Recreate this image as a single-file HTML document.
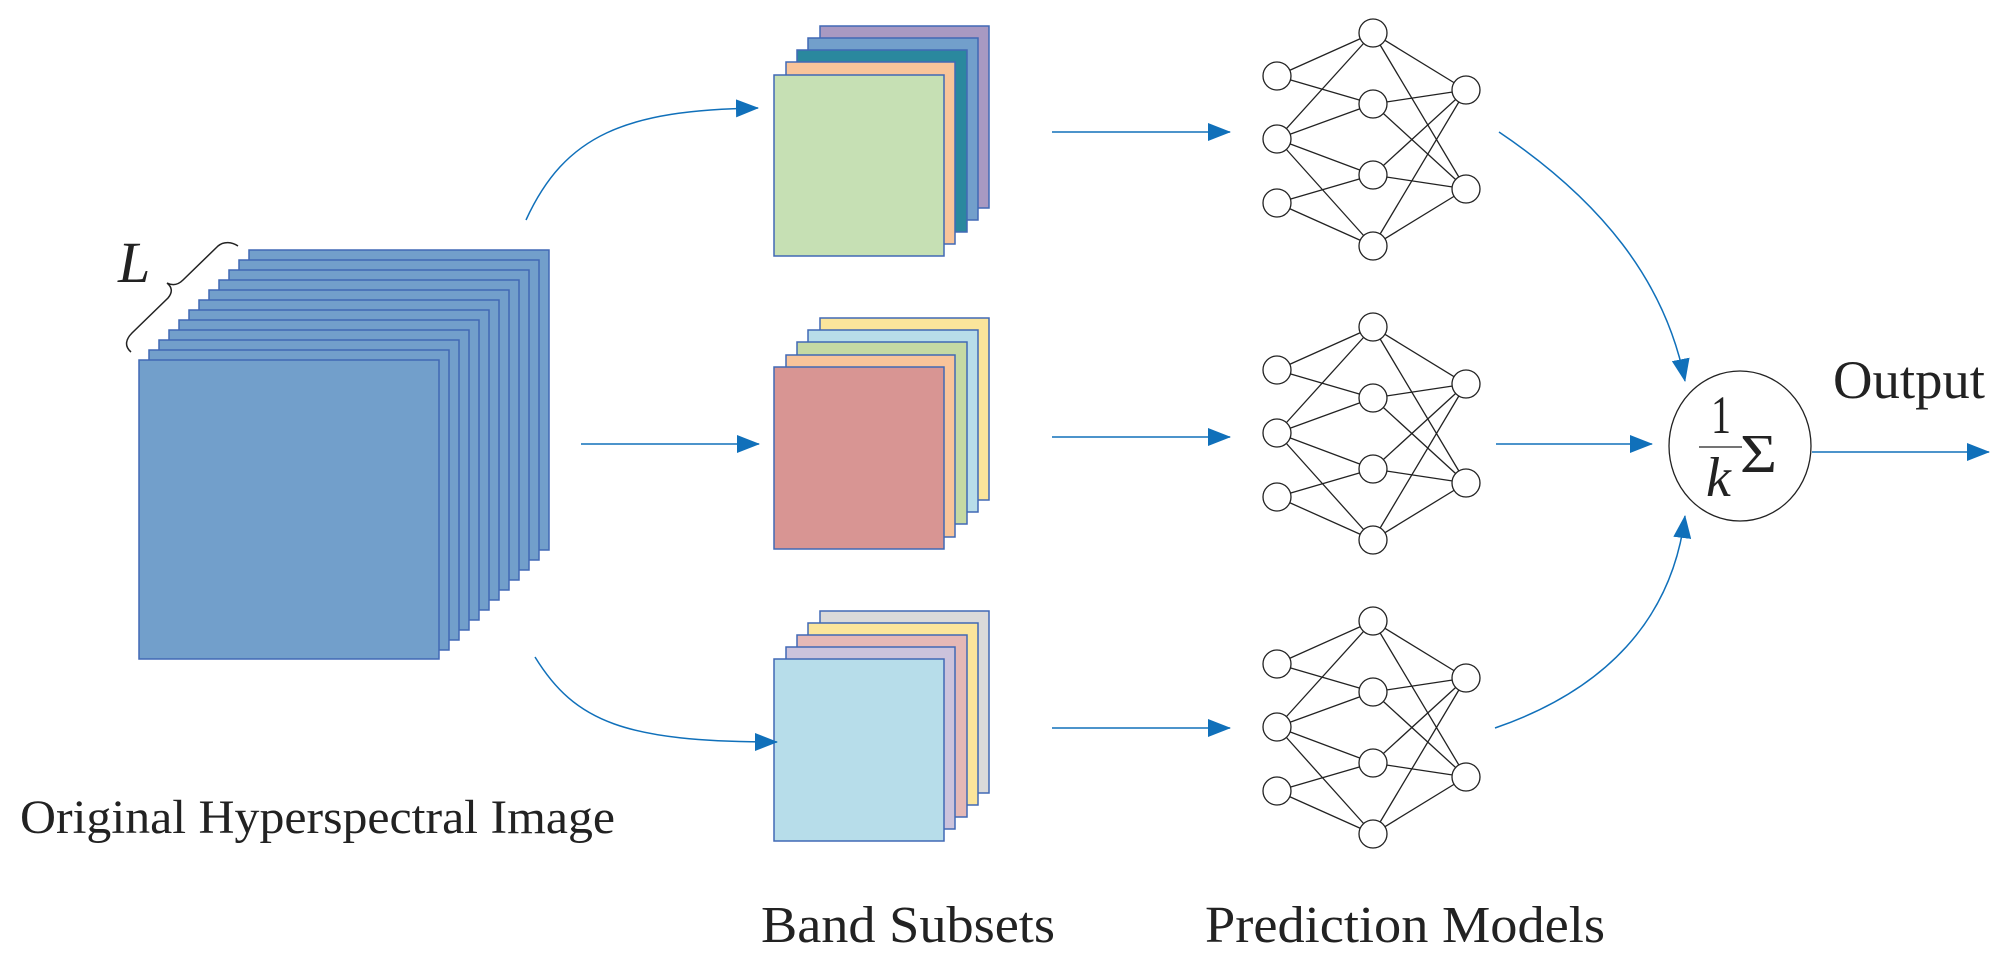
<!DOCTYPE html>
<html><head><meta charset="utf-8"><style>html,body{margin:0;padding:0;background:#fff}svg{display:block}</style></head>
<body>
<svg width="1997" height="975" viewBox="0 0 1997 975" xmlns="http://www.w3.org/2000/svg" font-family="'Liberation Serif', serif">
<defs>
<marker id="ah" markerWidth="24" markerHeight="18" refX="22" refY="9" orient="auto" markerUnits="userSpaceOnUse">
<path d="M0,0 L23,9 L0,18 Z" fill="#1070BA"/>
</marker>
</defs>
<!-- big stack -->
<g fill="#729FCB" stroke="#4169B5" stroke-width="1.5">
<rect x="249" y="250" width="300" height="300"/>
<rect x="239" y="260" width="300" height="300"/>
<rect x="229" y="270" width="300" height="300"/>
<rect x="219" y="280" width="300" height="300"/>
<rect x="209" y="290" width="300" height="300"/>
<rect x="199" y="300" width="300" height="300"/>
<rect x="189" y="310" width="300" height="300"/>
<rect x="179" y="320" width="300" height="300"/>
<rect x="169" y="330" width="300" height="300"/>
<rect x="159" y="340" width="300" height="300"/>
<rect x="149" y="350" width="300" height="300"/>
<rect x="139" y="360" width="300" height="299"/>
</g>
<text x="118" y="282" font-size="58" font-style="italic" fill="#222">L</text>
<path d="M131,352 C124,346 126,339 132,333 L168,298 C173,292 172,287 167,283 C173,286 178,285 183,280 L218,246 C224,241 232,242 238,246" fill="none" stroke="#222" stroke-width="1.5"/>

<!-- band subsets -->
<g stroke="#4169B5" stroke-width="1.5">
<rect x="820" y="26" width="169" height="182" fill="#A899C2"/>
<rect x="808" y="38" width="170" height="182" fill="#729FCB"/>
<rect x="797" y="50" width="170" height="182" fill="#2A889E"/>
<rect x="786" y="62" width="169" height="182" fill="#F8C49A"/>
<rect x="774" y="75" width="170" height="181" fill="#C6E0B4"/>

<rect x="820" y="318" width="169" height="182" fill="#FBE59B"/>
<rect x="808" y="330" width="170" height="182" fill="#B8DDE9"/>
<rect x="797" y="342" width="170" height="182" fill="#C5D9A3"/>
<rect x="786" y="355" width="169" height="182" fill="#F8C49A"/>
<rect x="774" y="367" width="170" height="182" fill="#D89593"/>

<rect x="820" y="611" width="169" height="182" fill="#DADADA"/>
<rect x="808" y="623" width="170" height="182" fill="#FBE59B"/>
<rect x="797" y="635" width="170" height="182" fill="#E5B8B6"/>
<rect x="786" y="647" width="169" height="182" fill="#CCC3DC"/>
<rect x="774" y="659" width="170" height="182" fill="#B7DDEA"/>
</g>

<!-- arrows -->
<g fill="none" stroke="#1070BA" stroke-width="1.5" marker-end="url(#ah)">
<path d="M526,220 C565,135 625,110 758,108"/>
<path d="M581,444 L759,444"/>
<path d="M535,657 C575,722 625,742 777,742"/>
<path d="M1052,132 L1230,132"/>
<path d="M1052,437 L1230,437"/>
<path d="M1052,728 L1230,728"/>
<path d="M1499,132 C1600,200 1665,280 1685,381"/>
<path d="M1496,444 L1652,444"/>
<path d="M1495,728 C1605,690 1672,620 1685,516"/>
<path d="M1812,452 L1989,452"/>
</g>

<!-- neural nets -->
<g id="nn" stroke="#222" stroke-width="1.3">
<g>
<line x1="1277" y1="76" x2="1373" y2="33"/><line x1="1277" y1="76" x2="1373" y2="104"/>
<line x1="1277" y1="139" x2="1373" y2="33"/><line x1="1277" y1="139" x2="1373" y2="104"/>
<line x1="1277" y1="139" x2="1373" y2="175"/><line x1="1277" y1="139" x2="1373" y2="246"/>
<line x1="1277" y1="203" x2="1373" y2="175"/><line x1="1277" y1="203" x2="1373" y2="246"/>
<line x1="1373" y1="33" x2="1466" y2="90"/><line x1="1373" y1="33" x2="1466" y2="189"/>
<line x1="1373" y1="104" x2="1466" y2="90"/><line x1="1373" y1="104" x2="1466" y2="189"/>
<line x1="1373" y1="175" x2="1466" y2="90"/><line x1="1373" y1="175" x2="1466" y2="189"/>
<line x1="1373" y1="246" x2="1466" y2="90"/><line x1="1373" y1="246" x2="1466" y2="189"/>
</g>
<g fill="#fff">
<ellipse cx="1277" cy="76" rx="14" ry="14"/><ellipse cx="1277" cy="139" rx="14" ry="14"/><ellipse cx="1277" cy="203" rx="14" ry="14"/>
<ellipse cx="1373" cy="33" rx="14" ry="14"/><ellipse cx="1373" cy="104" rx="14" ry="14"/><ellipse cx="1373" cy="175" rx="14" ry="14"/><ellipse cx="1373" cy="246" rx="14" ry="14"/>
<ellipse cx="1466" cy="90" rx="14" ry="14"/><ellipse cx="1466" cy="189" rx="14" ry="14"/>
</g>
</g>
<use href="#nn" transform="translate(0,294)"/>
<use href="#nn" transform="translate(0,588)"/>

<!-- sum node -->
<ellipse cx="1740" cy="446" rx="71" ry="75" fill="#fff" stroke="#222" stroke-width="1.3"/>
<text x="1711" y="433" font-size="54" fill="#222" textLength="20" lengthAdjust="spacingAndGlyphs">1</text>
<line x1="1699" y1="447" x2="1742" y2="447" stroke="#222" stroke-width="1.3"/>
<text x="1706" y="496" font-size="56" font-style="italic" fill="#222">k</text>
<text x="1740" y="472" font-size="55" fill="#222" textLength="37" lengthAdjust="spacingAndGlyphs">Σ</text>

<!-- labels -->
<text x="1833" y="398" font-size="54" fill="#222" textLength="152" lengthAdjust="spacingAndGlyphs">Output</text>
<text x="20" y="833" font-size="48" fill="#222" textLength="595" lengthAdjust="spacingAndGlyphs">Original Hyperspectral Image</text>
<text x="761" y="942" font-size="52" fill="#222" textLength="294" lengthAdjust="spacingAndGlyphs">Band Subsets</text>
<text x="1205" y="942" font-size="52" fill="#222" textLength="400" lengthAdjust="spacingAndGlyphs">Prediction Models</text>
</svg>
</body></html>
